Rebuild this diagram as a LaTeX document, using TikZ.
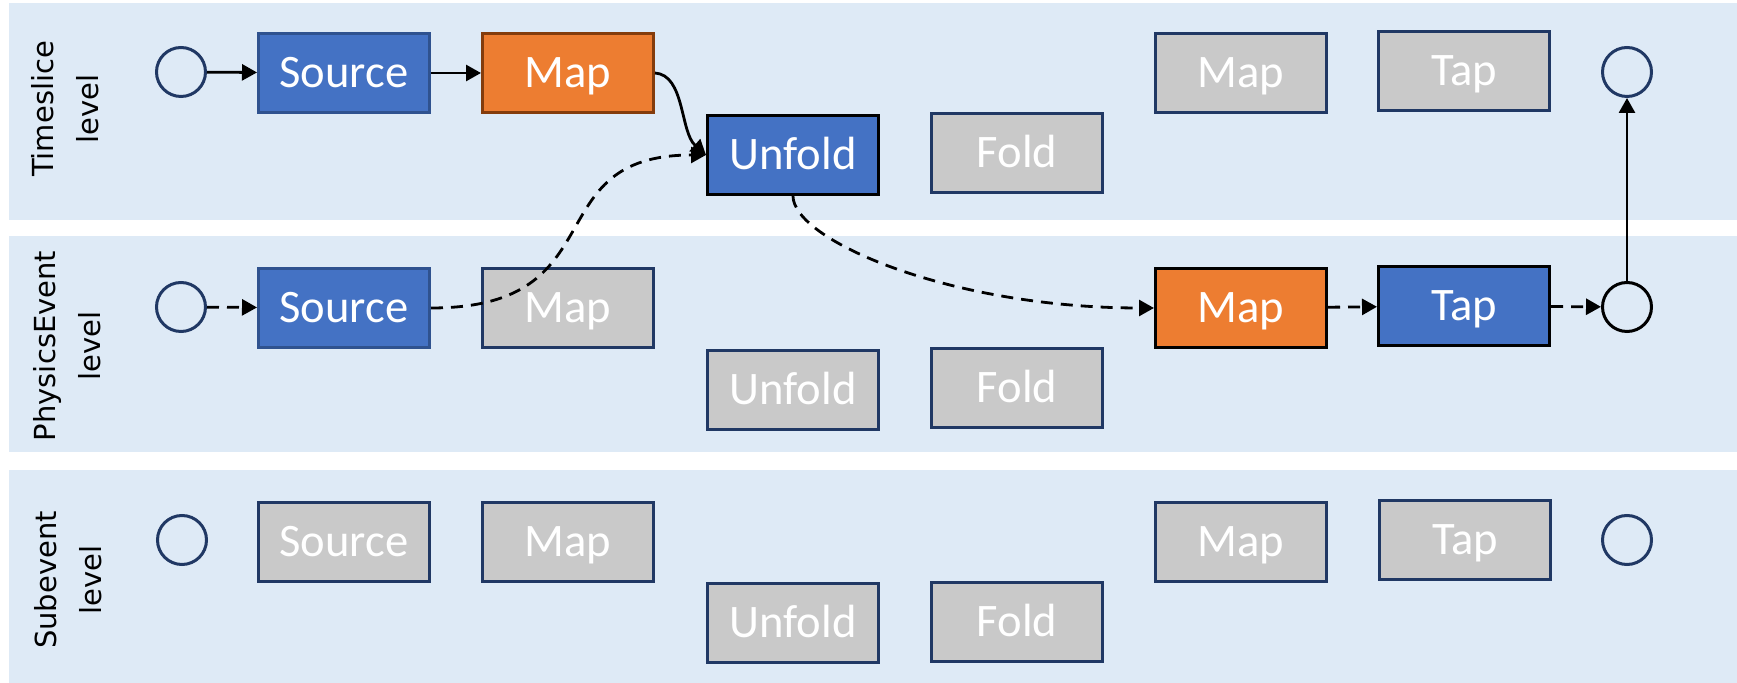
\documentclass[tikz,border=0pt]{standalone}
\usepackage{fontspec}
\setmainfont{Carlito}
\newfontfamily\lvlfont{DejaVu Sans}
\usepackage{tikz}
\usetikzlibrary{arrows.meta,positioning,shapes}
\definecolor{bandblue}{HTML}{DEEAF6}
\definecolor{opblue}{HTML}{4472C4}
\definecolor{oporange}{HTML}{ED7D31}
\definecolor{opgray}{HTML}{C9C9C9}
\definecolor{navy}{HTML}{203864}
\definecolor{darkblue}{HTML}{2F528F}
\definecolor{mapbrown}{HTML}{843C0C}
\tikzset{
    %Define standard arrow tip
    >={Triangle[length=7.5pt,width=8pt]},
    %Define style for level bands
    band/.style={
           fill=bandblue,
           draw=none},
    lvl/.style={
           rotate=90,
           align=center,
           font=\lvlfont\fontsize{14.5}{22.5}\selectfont},
    %Define style for boxes
    opbox/.style={
           rectangle,
           draw=navy, line width=1.5pt,
           minimum width=85.5pt,
           minimum height=39.5pt,
           inner sep=0pt,
           text=white,
           text height=15pt,
           text depth=0pt,
           font=\fontsize{23.3}{28}\selectfont},
    idle/.style={
           opbox,
           fill=opgray},
    bop/.style={
           opbox,
           fill=opblue,
           draw=darkblue},
    oop/.style={
           opbox,
           fill=oporange,
           draw=mapbrown},
    port/.style={
           circle,
           draw=navy, line width=1.5pt,
           minimum size=24.5pt,
           inner sep=0pt},
    % Define arrow style
    arr/.style={
           ->,
           line width=1.4pt},
    dashedarr/.style={
           ->,
           line width=1.4pt,
           dash pattern=on 6pt off 4pt}
}
\begin{document}
\begin{tikzpicture}[x=0.5pt, y=-0.5pt]
    \useasboundingbox (0,0) rectangle (1737,683);
    % LEVELS
    \fill[band] (9,3) rectangle (1737,220);
    \fill[band] (9,236) rectangle (1737,452);
    \fill[band] (9,470) rectangle (1737,683);

    \node[lvl] at (65,109) (tlabel) {Timeslice\\level};
    \node[lvl] at (67,346) (plabel) {PhysicsEvent\\level};
    \node[lvl] at (68,580) (slabel) {Subevent\\level};

    % TIMESLICE
    \node[port] at (181,72) (tin) {};
    \node[bop] at (344,73) (tsource) {Source};
    \node[oop] at (568,73) (tmap) {Map};
    \node[bop, draw=black] at (793,155) (tunfold) {Unfold};
    \node[idle] at (1017,153) (tfold) {Fold};
    \node[idle] at (1241,73) (tmap2) {Map};
    \node[idle] at (1464,71) (ttap) {Tap};
    \node[port] at (1627,72) (tout) {};

    % PHYSICSEVENT
    \node[port] at (181,307) (pin) {};
    \node[bop] at (344,308) (psource) {Source};
    \node[idle] at (568,308) (pmap) {Map};
    \node[idle] at (793,390) (punfold) {Unfold};
    \node[idle] at (1017,388) (pfold) {Fold};
    \node[oop, draw=black] at (1241,308) (pmap2) {Map};
    \node[bop, draw=black] at (1464,306) (ptap) {Tap};
    \node[port, draw=black] at (1627,307) (pout) {};

    % SUBEVENT
    \node[port] at (182,540) (sin) {};
    \node[idle] at (344,542) (ssource) {Source};
    \node[idle] at (568,542) (smap) {Map};
    \node[idle] at (793,623) (sunfold) {Unfold};
    \node[idle] at (1017,622) (sfold) {Fold};
    \node[idle] at (1241,542) (smap2) {Map};
    \node[idle] at (1465,540) (stap) {Tap};
    \node[port] at (1627,540) (sout) {};

    % FLOW
    \path[arr] (tin) edge (tsource);
    \path[arr] (tsource) edge (tmap);
    \draw[arr] (tmap.east) .. controls +(30,2) and +(-26,-23) .. (tunfold.west);

    \path[dashedarr] (pin) edge (psource);
    \draw[dashedarr] (psource.east) .. controls +(188,0) and +(-172,0) .. (tunfold.west);
    \draw[dashedarr] (tunfold.south) .. controls +(0,44) and +(-204,0) .. (pmap2.west);
    \path[dashedarr] (pmap2) edge (ptap);
    \path[dashedarr] (ptap) edge (pout);
    \path[arr] (pout) edge (tout);
\end{tikzpicture}
\end{document}
